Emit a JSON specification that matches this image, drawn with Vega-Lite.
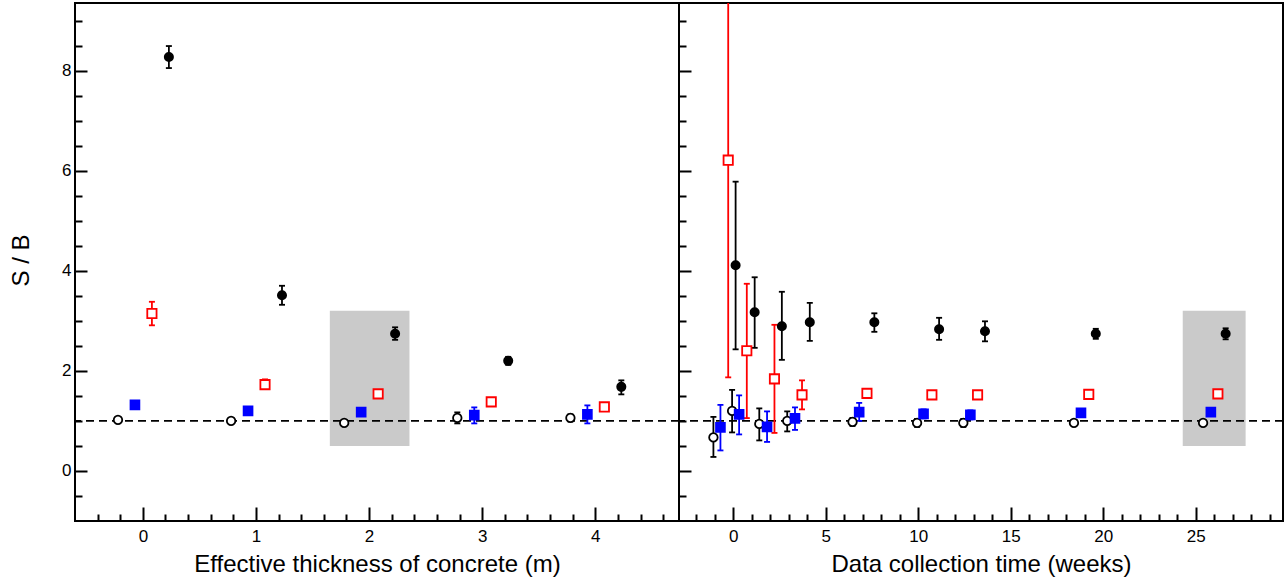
{
  "$schema": "https://vega.github.io/schema/vega-lite/v6.json",
  "autosize": "pad",
  "padding": {"left": 8, "top": 2, "right": 0, "bottom": 0},
  "background": "white",
  "spacing": 0,
  "bounds": "flush",
  "config": {
    "view": {"stroke": "black", "strokeWidth": 2},
    "font": "Liberation Sans",
    "axis": {"grid": false, "labelColor": "black", "titleColor": "black", "tickColor": "black", "labelFont": "Liberation Sans", "titleFont": "Liberation Sans", "titleFontWeight": "normal"}
  },
  "datasets": {
    "pts": [
      {"p": "L", "s": "open", "x": -0.22, "y": 1.02, "lo": 1.02, "hi": 1.02},
      {"p": "L", "s": "open", "x": 0.78, "y": 1.0, "lo": 1.0, "hi": 1.0},
      {"p": "L", "s": "open", "x": 1.78, "y": 0.96, "lo": 0.96, "hi": 0.96},
      {"p": "L", "s": "open", "x": 2.78, "y": 1.06, "lo": 0.95, "hi": 1.17},
      {"p": "L", "s": "open", "x": 3.78, "y": 1.06, "lo": 0.99, "hi": 1.13},
      {"p": "L", "s": "blue", "x": -0.07, "y": 1.32, "lo": 1.32, "hi": 1.32},
      {"p": "L", "s": "blue", "x": 0.93, "y": 1.2, "lo": 1.2, "hi": 1.2},
      {"p": "L", "s": "blue", "x": 1.93, "y": 1.175, "lo": 1.175, "hi": 1.175},
      {"p": "L", "s": "blue", "x": 2.93, "y": 1.115, "lo": 0.95, "hi": 1.27},
      {"p": "L", "s": "blue", "x": 3.93, "y": 1.13, "lo": 0.95, "hi": 1.31},
      {"p": "L", "s": "red", "x": 0.08, "y": 3.145, "lo": 2.91, "hi": 3.38},
      {"p": "L", "s": "red", "x": 1.08, "y": 1.725, "lo": 1.65, "hi": 1.83},
      {"p": "L", "s": "red", "x": 2.08, "y": 1.54, "lo": 1.54, "hi": 1.54},
      {"p": "L", "s": "red", "x": 3.08, "y": 1.38, "lo": 1.38, "hi": 1.38},
      {"p": "L", "s": "red", "x": 4.08, "y": 1.28, "lo": 1.28, "hi": 1.28},
      {"p": "L", "s": "black", "x": 0.23, "y": 8.27, "lo": 8.05, "hi": 8.49},
      {"p": "L", "s": "black", "x": 1.23, "y": 3.51, "lo": 3.32, "hi": 3.7},
      {"p": "L", "s": "black", "x": 2.23, "y": 2.74, "lo": 2.62, "hi": 2.87},
      {"p": "L", "s": "black", "x": 3.23, "y": 2.2, "lo": 2.12, "hi": 2.28},
      {"p": "L", "s": "black", "x": 4.23, "y": 1.68, "lo": 1.53, "hi": 1.81},

      {"p": "R", "s": "open", "x": -1.07, "y": 0.67, "lo": 0.28, "hi": 1.08},
      {"p": "R", "s": "open", "x": -0.06, "y": 1.2, "lo": 0.77, "hi": 1.62},
      {"p": "R", "s": "open", "x": 1.41, "y": 0.94, "lo": 0.61, "hi": 1.25},
      {"p": "R", "s": "open", "x": 2.92, "y": 1.0, "lo": 0.79, "hi": 1.19},
      {"p": "R", "s": "open", "x": 6.45, "y": 0.98, "lo": 0.9, "hi": 1.06},
      {"p": "R", "s": "open", "x": 9.94, "y": 0.96, "lo": 0.88, "hi": 1.04},
      {"p": "R", "s": "open", "x": 12.44, "y": 0.96, "lo": 0.88, "hi": 1.04},
      {"p": "R", "s": "open", "x": 18.42, "y": 0.96, "lo": 0.96, "hi": 0.96},
      {"p": "R", "s": "open", "x": 25.4, "y": 0.96, "lo": 0.96, "hi": 0.96},
      {"p": "R", "s": "blue", "x": -0.69, "y": 0.87, "lo": 0.41, "hi": 1.32},
      {"p": "R", "s": "blue", "x": 0.32, "y": 1.13, "lo": 0.73, "hi": 1.51},
      {"p": "R", "s": "blue", "x": 1.83, "y": 0.88, "lo": 0.58, "hi": 1.19},
      {"p": "R", "s": "blue", "x": 3.34, "y": 1.05, "lo": 0.82, "hi": 1.27},
      {"p": "R", "s": "blue", "x": 6.81, "y": 1.175, "lo": 1.0, "hi": 1.36},
      {"p": "R", "s": "blue", "x": 10.29, "y": 1.14, "lo": 1.05, "hi": 1.23},
      {"p": "R", "s": "blue", "x": 12.82, "y": 1.12, "lo": 1.03, "hi": 1.21},
      {"p": "R", "s": "blue", "x": 18.8, "y": 1.16, "lo": 1.16, "hi": 1.16},
      {"p": "R", "s": "blue", "x": 25.82, "y": 1.175, "lo": 1.175, "hi": 1.175},
      {"p": "R", "s": "red", "x": -0.27, "y": 6.21, "lo": 1.87, "hi": 10.55},
      {"p": "R", "s": "red", "x": 0.735, "y": 2.4, "lo": 1.056, "hi": 3.74},
      {"p": "R", "s": "red", "x": 2.23, "y": 1.84, "lo": 0.76, "hi": 2.92},
      {"p": "R", "s": "red", "x": 3.72, "y": 1.52, "lo": 1.23, "hi": 1.81},
      {"p": "R", "s": "red", "x": 7.23, "y": 1.55, "lo": 1.47, "hi": 1.63},
      {"p": "R", "s": "red", "x": 10.74, "y": 1.52, "lo": 1.44, "hi": 1.6},
      {"p": "R", "s": "red", "x": 13.21, "y": 1.52, "lo": 1.44, "hi": 1.6},
      {"p": "R", "s": "red", "x": 19.22, "y": 1.53, "lo": 1.53, "hi": 1.53},
      {"p": "R", "s": "red", "x": 26.2, "y": 1.54, "lo": 1.54, "hi": 1.54},
      {"p": "R", "s": "black", "x": 0.13, "y": 4.11, "lo": 2.43, "hi": 5.78},
      {"p": "R", "s": "black", "x": 1.16, "y": 3.17, "lo": 2.46, "hi": 3.87},
      {"p": "R", "s": "black", "x": 2.63, "y": 2.89, "lo": 2.22, "hi": 3.58},
      {"p": "R", "s": "black", "x": 4.14, "y": 2.97, "lo": 2.6, "hi": 3.36},
      {"p": "R", "s": "black", "x": 7.63, "y": 2.97, "lo": 2.78, "hi": 3.15},
      {"p": "R", "s": "black", "x": 11.13, "y": 2.83, "lo": 2.62, "hi": 3.06},
      {"p": "R", "s": "black", "x": 13.61, "y": 2.79, "lo": 2.59, "hi": 2.99},
      {"p": "R", "s": "black", "x": 19.6, "y": 2.74, "lo": 2.64, "hi": 2.84},
      {"p": "R", "s": "black", "x": 26.62, "y": 2.74, "lo": 2.63, "hi": 2.85}
    ],
    "shade": [
      {"p": "L", "x1": 1.653, "x2": 2.357, "y1": 0.5, "y2": 3.2},
      {"p": "R", "x1": 24.3, "x2": 27.7, "y1": 0.5, "y2": 3.2}
    ]
  },
  "resolve": {"scale": {"x": "independent", "y": "independent"}},
  "hconcat": [
    {
      "width": 604,
      "height": 518,
      "resolve": {"axis": {"x": "independent", "y": "independent"}},
      "layer": [
        {
          "data": {"name": "shade"},
          "transform": [{"filter": "datum.p === 'L'"}],
          "mark": {"type": "rect", "color": "#cacaca"},
          "encoding": {
            "x": {"field": "x1", "type": "quantitative", "scale": {"domain": [-0.6, 4.74], "nice": false, "zero": false}, "axis": null},
            "x2": {"field": "x2"},
            "y": {"field": "y1", "type": "quantitative", "scale": {"domain": [-1, 9.35], "nice": false, "zero": false}, "axis": null},
            "y2": {"field": "y2"}
          }
        },
        {
          "data": {"name": "shade"},
          "transform": [{"filter": "datum.p === 'L'"}],
          "mark": {"type": "rule", "color": "black", "strokeWidth": 1.7, "strokeDash": [8, 5]},
          "encoding": {
            "y": {"datum": 1, "type": "quantitative", "axis": null}
          }
        },
        {
          "data": {"name": "pts"},
          "transform": [{"filter": "datum.p === 'L'"}],
          "mark": {"type": "rule", "strokeWidth": 1.8, "clip": true},
          "encoding": {
            "x": {"field": "x", "type": "quantitative", "axis": {"orient": "bottom", "values": [0, 1, 2, 3, 4], "labels": false, "domain": false, "tickSize": -14, "tickWidth": 2, "title": null}},
            "y": {"field": "lo", "type": "quantitative", "axis": {"orient": "left", "values": [0, 2, 4, 6, 8], "labels": false, "domain": false, "tickSize": -12, "tickWidth": 2, "title": null}},
            "y2": {"field": "hi"},
            "color": {"field": "s", "type": "nominal", "scale": {"domain": ["open", "blue", "red", "black"], "range": ["black", "#0000ff", "#ff0000", "black"]}, "legend": null}
          }
        },
        {
          "data": {"name": "pts"},
          "transform": [{"filter": "datum.p === 'L'"}],
          "mark": {"type": "tick", "orient": "horizontal", "size": 6, "thickness": 1.8, "opacity": 1, "clip": true},
          "encoding": {
            "x": {"field": "x", "type": "quantitative", "axis": {"orient": "bottom", "values": [-0.4, -0.2, 0.2, 0.4, 0.6, 0.8, 1.2, 1.4, 1.6, 1.8, 2.2, 2.4, 2.6, 2.8, 3.2, 3.4, 3.6, 3.8, 4.2, 4.4, 4.6], "labels": false, "domain": false, "tickSize": -7, "tickWidth": 2, "title": null}},
            "y": {"field": "lo", "type": "quantitative", "axis": {"orient": "left", "values": [-0.5, 0.5, 1, 1.5, 2.5, 3, 3.5, 4.5, 5, 5.5, 6.5, 7, 7.5, 8.5, 9], "labels": false, "domain": false, "tickSize": -7, "tickWidth": 2, "title": null}},
            "color": {"field": "s", "type": "nominal", "legend": null}
          }
        },
        {
          "data": {"name": "pts"},
          "transform": [{"filter": "datum.p === 'L'"}],
          "mark": {"type": "tick", "orient": "horizontal", "size": 6, "thickness": 1.8, "opacity": 1, "clip": true},
          "encoding": {
            "x": {"field": "x", "type": "quantitative", "axis": null},
            "y": {"field": "hi", "type": "quantitative", "axis": null},
            "color": {"field": "s", "type": "nominal", "legend": null}
          }
        },
        {
          "data": {"name": "pts"},
          "transform": [{"filter": "datum.p === 'L'"}],
          "mark": {"type": "point", "strokeWidth": 1.8, "opacity": 1, "fillOpacity": 1},
          "encoding": {
            "x": {"field": "x", "type": "quantitative", "axis": {"orient": "bottom", "values": [0, 1, 2, 3, 4], "ticks": false, "domain": false, "labelFontSize": 17, "labelPadding": 7, "labelFlush": false, "title": "Effective thickness of concrete (m)", "titleFontSize": 24, "titleY": 50, "titleBaseline": "alphabetic"}},
            "y": {"field": "y", "type": "quantitative", "axis": {"orient": "left", "values": [0, 2, 4, 6, 8], "ticks": false, "domain": false, "labelFontSize": 17, "labelPadding": 4, "labelFlush": false, "title": "S / B", "titleFontSize": 24, "titleAngle": -90, "titleX": -47, "titleY": 257, "titleAlign": "center", "titleBaseline": "alphabetic"}},
            "shape": {"field": "s", "type": "nominal", "scale": {"domain": ["open", "blue", "red", "black"], "range": ["circle", "square", "square", "circle"]}, "legend": null},
            "fill": {"field": "s", "type": "nominal", "scale": {"domain": ["open", "blue", "red", "black"], "range": ["white", "#0000ff", "white", "black"]}, "legend": null},
            "stroke": {"field": "s", "type": "nominal", "scale": {"domain": ["open", "blue", "red", "black"], "range": ["black", "#0000ff", "#ff0000", "black"]}, "legend": null},
            "size": {"field": "s", "type": "nominal", "scale": {"type": "ordinal", "domain": ["open", "blue", "red", "black"], "range": [72, 78, 86, 68]}, "legend": null}
          }
        }
      ]
    },
    {
      "width": 604,
      "height": 518,
      "resolve": {"axis": {"x": "independent", "y": "independent"}},
      "layer": [
        {
          "data": {"name": "shade"},
          "transform": [{"filter": "datum.p === 'R'"}],
          "mark": {"type": "rect", "color": "#cacaca"},
          "encoding": {
            "x": {"field": "x1", "type": "quantitative", "scale": {"domain": [-2.93, 29.72], "nice": false, "zero": false}, "axis": null},
            "x2": {"field": "x2"},
            "y": {"field": "y1", "type": "quantitative", "scale": {"domain": [-1, 9.35], "nice": false, "zero": false}, "axis": null},
            "y2": {"field": "y2"}
          }
        },
        {
          "data": {"name": "shade"},
          "transform": [{"filter": "datum.p === 'R'"}],
          "mark": {"type": "rule", "color": "black", "strokeWidth": 1.7, "strokeDash": [8, 5]},
          "encoding": {
            "y": {"datum": 1, "type": "quantitative", "axis": null}
          }
        },
        {
          "data": {"name": "pts"},
          "transform": [{"filter": "datum.p === 'R'"}],
          "mark": {"type": "rule", "strokeWidth": 1.8, "clip": true},
          "encoding": {
            "x": {"field": "x", "type": "quantitative", "axis": {"orient": "bottom", "values": [0, 5, 10, 15, 20, 25], "labels": false, "domain": false, "tickSize": -14, "tickWidth": 2, "title": null}},
            "y": {"field": "lo", "type": "quantitative", "axis": {"orient": "left", "values": [0, 2, 4, 6, 8], "labels": false, "domain": false, "tickSize": -12, "tickWidth": 2, "title": null}},
            "y2": {"field": "hi"},
            "color": {"field": "s", "type": "nominal", "scale": {"domain": ["open", "blue", "red", "black"], "range": ["black", "#0000ff", "#ff0000", "black"]}, "legend": null}
          }
        },
        {
          "data": {"name": "pts"},
          "transform": [{"filter": "datum.p === 'R'"}],
          "mark": {"type": "tick", "orient": "horizontal", "size": 6, "thickness": 1.8, "opacity": 1, "clip": true},
          "encoding": {
            "x": {"field": "x", "type": "quantitative", "axis": {"orient": "bottom", "values": [-2, -1, 1, 2, 3, 4, 6, 7, 8, 9, 11, 12, 13, 14, 16, 17, 18, 19, 21, 22, 23, 24, 26, 27, 28, 29], "labels": false, "domain": false, "tickSize": -7, "tickWidth": 2, "title": null}},
            "y": {"field": "lo", "type": "quantitative", "axis": {"orient": "left", "values": [-0.5, 0.5, 1, 1.5, 2.5, 3, 3.5, 4.5, 5, 5.5, 6.5, 7, 7.5, 8.5, 9], "labels": false, "domain": false, "tickSize": -7, "tickWidth": 2, "title": null}},
            "color": {"field": "s", "type": "nominal", "legend": null}
          }
        },
        {
          "data": {"name": "pts"},
          "transform": [{"filter": "datum.p === 'R'"}],
          "mark": {"type": "tick", "orient": "horizontal", "size": 6, "thickness": 1.8, "opacity": 1, "clip": true},
          "encoding": {
            "x": {"field": "x", "type": "quantitative", "axis": null},
            "y": {"field": "hi", "type": "quantitative", "axis": null},
            "color": {"field": "s", "type": "nominal", "legend": null}
          }
        },
        {
          "data": {"name": "pts"},
          "transform": [{"filter": "datum.p === 'R'"}],
          "mark": {"type": "point", "strokeWidth": 1.8, "opacity": 1, "fillOpacity": 1},
          "encoding": {
            "x": {"field": "x", "type": "quantitative", "axis": {"orient": "bottom", "values": [0, 5, 10, 15, 20, 25], "ticks": false, "domain": false, "labelFontSize": 17, "labelPadding": 7, "labelFlush": false, "title": "Data collection time (weeks)", "titleFontSize": 24, "titleY": 50, "titleBaseline": "alphabetic"}},
            "y": {"field": "y", "type": "quantitative", "axis": null},
            "shape": {"field": "s", "type": "nominal", "scale": {"domain": ["open", "blue", "red", "black"], "range": ["circle", "square", "square", "circle"]}, "legend": null},
            "fill": {"field": "s", "type": "nominal", "scale": {"domain": ["open", "blue", "red", "black"], "range": ["white", "#0000ff", "white", "black"]}, "legend": null},
            "stroke": {"field": "s", "type": "nominal", "scale": {"domain": ["open", "blue", "red", "black"], "range": ["black", "#0000ff", "#ff0000", "black"]}, "legend": null},
            "size": {"field": "s", "type": "nominal", "scale": {"type": "ordinal", "domain": ["open", "blue", "red", "black"], "range": [72, 78, 86, 68]}, "legend": null}
          }
        }
      ]
    }
  ]
}
